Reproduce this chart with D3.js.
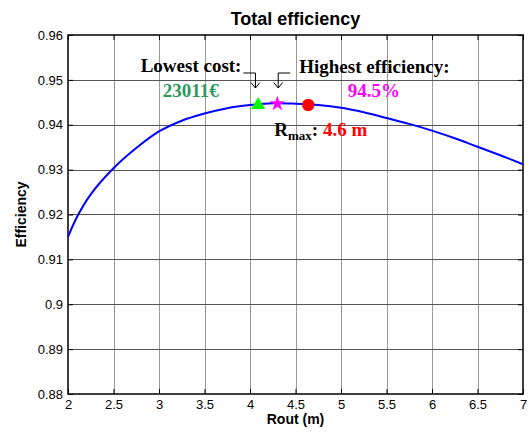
<!DOCTYPE html>
<html>
<head>
    <title>Total efficiency</title>
    <script src="https://d3js.org/d3.v7.min.js"></script>
    <style>
        body { margin: 0; background: #fff; }
        svg { display: block; }
    </style>
</head>
<body>
    <div id="chart"></div>

    <script>
        // Curve: total efficiency vs outer radius
        var routValues = [2.0, 2.1, 2.25, 2.5, 2.75, 3.0, 3.25, 3.5, 3.75, 4.0, 4.25, 4.5,
                          4.75, 5.0, 5.25, 5.5, 5.75, 6.0, 6.25, 6.5, 6.75, 7.0];
        var effValues = [0.9150, 0.9195, 0.9245, 0.9303, 0.9348, 0.9385, 0.9409, 0.9425,
                         0.9437, 0.9444, 0.9448, 0.9447, 0.9444, 0.9438, 0.9428, 0.9415,
                         0.9402, 0.9387, 0.9370, 0.9351, 0.9332, 0.9312];

        // Highlighted points
        var pointNames = ['lowestCost', 'highestEff', 'rmax'];
        var pointX = [4.09, 4.30, 4.64];
        var pointY = [0.9444, 0.9447, 0.9444];

        // Tick labels
        var xTicks = [2, 2.5, 3, 3.5, 4, 4.5, 5, 5.5, 6, 6.5, 7];
        var yTicks = [0.88, 0.89, 0.9, 0.91, 0.92, 0.93, 0.94, 0.95, 0.96];

        var lineData = routValues.map(function(r, i) { return { x: r, y: effValues[i] }; });

        var totalWidth = 531, totalHeight = 434;
        var margin = { top: 35, right: 8, bottom: 40, left: 68 };
        var width = totalWidth - margin.left - margin.right;
        var height = totalHeight - margin.top - margin.bottom;

        var x = d3.scaleLinear().domain([2, 7]).range([0, width]);
        var y = d3.scaleLinear().domain([0.88, 0.96]).range([height, 0]);

        var svg = d3.select('#chart')
            .append('svg')
            .attr('width', totalWidth)
            .attr('height', totalHeight);

        var g = svg.append('g')
            .attr('transform', 'translate(' + margin.left + ',' + margin.top + ')');

        // Grid lines
        g.append('g')
            .selectAll('line')
            .data(xTicks.slice(1, -1))
            .enter()
            .append('line')
            .attr('x1', function(d) { return Math.round(x(d)) + 0.5; })
            .attr('x2', function(d) { return Math.round(x(d)) + 0.5; })
            .attr('y1', 0)
            .attr('y2', height)
            .attr('stroke', '#999')
            .attr('stroke-width', 1);

        g.append('g')
            .selectAll('line')
            .data(yTicks.slice(1, -1))
            .enter()
            .append('line')
            .attr('x1', 0)
            .attr('x2', width)
            .attr('y1', function(d) { return Math.round(y(d)) + 0.5; })
            .attr('y2', function(d) { return Math.round(y(d)) + 0.5; })
            .attr('stroke', '#555')
            .attr('stroke-width', 1);

        // Axes (MATLAB style: ticks pointing inward, on all four sides)
        var fmt = function(d) { return String(+d.toFixed(2)); };

        g.append('g')
            .attr('transform', 'translate(0,' + height + ')')
            .call(d3.axisBottom(x).tickValues(xTicks).tickSize(-5).tickPadding(6).tickFormat(fmt));
        g.append('g')
            .call(d3.axisLeft(y).tickValues(yTicks).tickSize(-5).tickPadding(5).tickFormat(fmt));
        g.append('g')
            .call(d3.axisTop(x).tickValues(xTicks).tickSize(-5).tickFormat(''));
        g.append('g')
            .attr('transform', 'translate(' + width + ',0)')
            .call(d3.axisRight(y).tickValues(yTicks).tickSize(-5).tickFormat(''));

        g.selectAll('.domain').remove();
        g.selectAll('.tick line').attr('stroke', '#000');
        g.selectAll('.tick text')
            .attr('font-family', 'Arial, "Liberation Sans", sans-serif')
            .attr('font-size', 13)
            .attr('fill', '#000');

        g.append('rect')
            .attr('width', width)
            .attr('height', height)
            .attr('fill', 'none')
            .attr('stroke', '#000')
            .attr('stroke-width', 1.5);

        // Efficiency curve
        var line = d3.line()
            .x(function(d) { return x(d.x); })
            .y(function(d) { return y(d.y); })
            .curve(d3.curveCatmullRom.alpha(0.5));

        g.append('path')
            .datum(lineData)
            .attr('fill', 'none')
            .attr('stroke', '#0000ff')
            .attr('stroke-width', 2)
            .attr('d', line);

        // Markers
        g.append('path')
            .attr('transform', 'translate(' + x(pointX[0]) + ',' + y(pointY[0]) + ')')
            .attr('d', d3.symbol().type(d3.symbolTriangle).size(85)())
            .attr('fill', '#00ff00');
        g.append('path')
            .attr('transform', 'translate(' + x(pointX[1]) + ',' + y(pointY[1]) + ')')
            .attr('d', d3.symbol().type(d3.symbolStar).size(75)())
            .attr('fill', '#ff00ff');
        g.append('circle')
            .attr('cx', x(pointX[2]))
            .attr('cy', y(pointY[2]))
            .attr('r', 6.2)
            .attr('fill', '#ff0000');

        // Bent arrows pointing to the two markers
        function arrow(xTip, xFrom) {
            var ax = x(xTip), ay0 = 38, ay1 = 53;
            g.append('path')
                .attr('d', 'M' + (ax + xFrom) + ',' + ay0 + 'H' + ax + 'V' + ay1 +
                           'M' + (ax - 4.5) + ',' + (ay1 - 5.5) + 'L' + ax + ',' + ay1 + 'L' + (ax + 4.5) + ',' + (ay1 - 5.5))
                .attr('fill', 'none')
                .attr('stroke', '#000')
                .attr('stroke-width', 1);
        }
        arrow(4.06, -12);
        arrow(4.31, 12);

        // Annotations
        var serif = '"Times New Roman", "Liberation Serif", serif';
        function note(tx, ty, anchor, color, str) {
            return g.append('text')
                .attr('x', tx)
                .attr('y', ty)
                .attr('text-anchor', anchor)
                .attr('font-family', serif)
                .attr('font-weight', 'bold')
                .attr('font-size', 19)
                .attr('fill', color)
                .text(str);
        }
        note(x(4.06) - 14, 37, 'end', '#000', 'Lowest cost:');
        note(x(3.35), 62, 'middle', '#2e9a5e', '23011€');
        note(x(4.31) + 21, 38, 'start', '#000', 'Highest efficiency:');
        note(x(5.36), 62, 'middle', '#ff00ff', '94.5%');

        var rm = g.append('text')
            .attr('x', x(4.64) - 34)
            .attr('y', 101)
            .attr('font-family', serif)
            .attr('font-weight', 'bold')
            .attr('font-size', 19)
            .attr('fill', '#000');
        rm.append('tspan').text('R');
        rm.append('tspan').attr('font-size', 13).attr('dy', 4).text('max');
        rm.append('tspan').attr('dy', -4).text(':');
        rm.append('tspan').attr('fill', '#ff0000').text(' 4.6 m');

        // Title and axis labels
        svg.append('text')
            .attr('x', margin.left + width / 2)
            .attr('y', 25)
            .attr('text-anchor', 'middle')
            .attr('font-family', 'Arial, "Liberation Sans", sans-serif')
            .attr('font-weight', 'bold')
            .attr('font-size', 18)
            .text('Total efficiency');

        svg.append('text')
            .attr('x', margin.left + width / 2)
            .attr('y', 424)
            .attr('text-anchor', 'middle')
            .attr('font-family', 'Arial, "Liberation Sans", sans-serif')
            .attr('font-weight', 'bold')
            .attr('font-size', 14)
            .text('Rout (m)');

        svg.append('text')
            .attr('transform', 'translate(26,' + (margin.top + height / 2) + ') rotate(-90)')
            .attr('text-anchor', 'middle')
            .attr('font-family', 'Arial, "Liberation Sans", sans-serif')
            .attr('font-weight', 'bold')
            .attr('font-size', 14)
            .text('Efficiency');
    </script>
</body>
</html>
